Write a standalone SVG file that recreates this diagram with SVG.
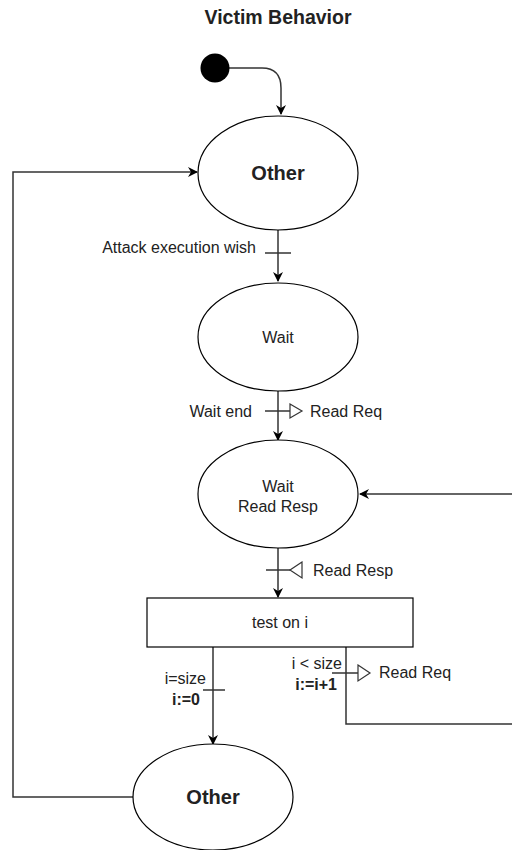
<svg xmlns="http://www.w3.org/2000/svg" width="512" height="850" viewBox="0 0 512 850">
<defs>
<marker id="arr" viewBox="0 0 10 10" refX="9" refY="5" markerWidth="10" markerHeight="10" markerUnits="userSpaceOnUse" orient="auto">
<path d="M0,0 L10,5 L0,10 L3,5 Z" fill="#000"/>
</marker>
<style>
.st{fill:#fff;stroke:#000;stroke-width:1.2}
.ln{fill:none;stroke:#333;stroke-width:1.5}
.tri{fill:#fff;stroke:#333;stroke-width:1.2}
text{font-family:"Liberation Sans",Arial,sans-serif;fill:#222}
.lbl{font-size:16px}
.big{font-size:20px;font-weight:bold}
</style>
</defs>
<rect width="512" height="850" fill="#fff"/>
<text x="278" y="24" text-anchor="middle" style="font-size:19.5px;font-weight:bold">Victim Behavior</text>

<g id="connectors">
<path class="ln" d="M228,68 L262,68 Q281,68 281,88 L281,114" marker-end="url(#arr)"/>
<path class="ln" d="M278,230 L278,281" marker-end="url(#arr)"/>
<line class="ln" x1="265" y1="253" x2="291" y2="253"/>
<path class="ln" d="M278,391 L278,440" marker-end="url(#arr)"/>
<line class="ln" x1="265" y1="411" x2="290" y2="411"/>
<path class="tri" d="M290,404 L302,411 L290,418 Z"/>
<path class="ln" d="M512,494 L360,494" marker-end="url(#arr)"/>
<path class="ln" d="M278,548 L278,597" marker-end="url(#arr)"/>
<line class="ln" x1="266" y1="570" x2="290" y2="570"/>
<path class="tri" d="M302,562 L290,570 L302,578 Z"/>
<path class="ln" d="M213,647 L213,744" marker-end="url(#arr)"/>
<line class="ln" x1="203" y1="690" x2="225" y2="690"/>
<path class="ln" d="M346,647 L346,724 L512,724"/>
<line class="ln" x1="332" y1="673" x2="358" y2="673"/>
<path class="tri" d="M358,665 L370,673 L358,681 Z"/>
<path class="ln" d="M133,797 L13,797 L13,172 L197,172" marker-end="url(#arr)"/>
</g>

<g id="start"><circle cx="215" cy="68" r="14.5" fill="#000"/></g>

<g id="other1">
<ellipse class="st" cx="278" cy="173" rx="80" ry="57"/>
<text class="big" x="278" y="180" text-anchor="middle">Other</text>
</g>
<g id="wait">
<ellipse class="st" cx="278" cy="337" rx="80" ry="54"/>
<text class="lbl" x="278" y="343" text-anchor="middle">Wait</text>
</g>
<g id="waitReadResp">
<ellipse class="st" cx="278" cy="494" rx="80" ry="54"/>
<text class="lbl" x="278" y="492" text-anchor="middle">Wait</text>
<text class="lbl" x="278" y="512" text-anchor="middle">Read Resp</text>
</g>
<g id="test">
<rect class="st" x="147" y="598" width="266" height="49"/>
<text class="lbl" x="280" y="628" text-anchor="middle">test on i</text>
</g>
<g id="other2">
<ellipse class="st" cx="213" cy="797" rx="80" ry="53"/>
<text class="big" x="213" y="804" text-anchor="middle">Other</text>
</g>

<g id="labels">
<text class="lbl" x="256" y="253" text-anchor="end">Attack execution wish</text>
<text class="lbl" x="252" y="417" text-anchor="end">Wait end</text>
<text class="lbl" x="310" y="417">Read Req</text>
<text class="lbl" x="313" y="576">Read Resp</text>
<text class="lbl" x="206" y="684" text-anchor="end">i=size</text>
<text class="lbl" x="200" y="705" text-anchor="end" font-weight="bold">i:=0</text>
<text class="lbl" x="342" y="669" text-anchor="end">i &lt; size</text>
<text class="lbl" x="337" y="690" text-anchor="end" font-weight="bold">i:=i+1</text>
<text class="lbl" x="379" y="678">Read Req</text>
</g>
</svg>
